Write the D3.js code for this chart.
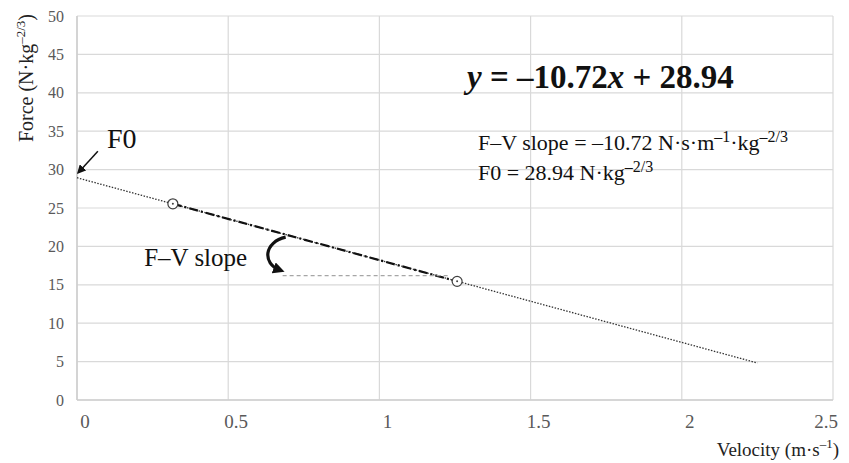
<!DOCTYPE html>
<html>
<head>
<meta charset="utf-8">
<script src="https://cdn.jsdelivr.net/npm/d3@7"></script>
<style>
  body { margin: 0; background: #fff; }
  svg { display: block; font-family: "Liberation Serif", "Times New Roman", serif; }
</style>
</head>
<body>
<svg id="chart" width="849" height="463"></svg>
<script>
// ---- data ----
const xTicks = [0, 0.5, 1, 1.5, 2, 2.5];
const xTickLabels = ["0", "0.5", "1", "1.5", "2", "2.5"];
const yTicks = [0, 5, 10, 15, 20, 25, 30, 35, 40, 45, 50];
const pointVelocity = [0.317, 1.257];
const pointForce = [25.55, 15.45];
const slope = -10.72;
const intercept = 28.94;
const lineRange = [0, 2.25];

// ---- layout ----
const W = 849, H = 463;
const margin = { left: 77, right: 16, top: 16, bottom: 63 };
const svg = d3.select("#chart");
const x = d3.scaleLinear().domain([0, 2.5]).range([margin.left, W - margin.right]);
const y = d3.scaleLinear().domain([0, 50]).range([H - margin.bottom, margin.top]);

const grid = "#d9d9d9";
// grid lines
svg.append("g").selectAll("line").data(yTicks).join("line")
  .attr("x1", x(0)).attr("x2", x(2.5))
  .attr("y1", d => y(d)).attr("y2", d => y(d))
  .attr("stroke", grid).attr("stroke-width", 1.2);
svg.append("g").selectAll("line").data(xTicks).join("line")
  .attr("y1", y(0)).attr("y2", y(50))
  .attr("x1", d => x(d)).attr("x2", d => x(d))
  .attr("stroke", grid).attr("stroke-width", 1.2);
// axis lines
svg.append("line").attr("x1", x(0)).attr("x2", x(2.5)).attr("y1", y(0)).attr("y2", y(0))
  .attr("stroke", "#cfcfcf").attr("stroke-width", 1.6);
svg.append("line").attr("x1", x(0)).attr("x2", x(0)).attr("y1", y(0)).attr("y2", y(50))
  .attr("stroke", "#cfcfcf").attr("stroke-width", 1.6);

// tick labels
svg.append("g").selectAll("text").data(yTicks).join("text")
  .attr("x", x(0) - 13).attr("y", d => y(d)).attr("dy", "0.35em")
  .attr("text-anchor", "end").attr("font-size", 16).attr("fill", "#595959")
  .text(d => d);
svg.append("g").selectAll("text").data(xTicks).join("text")
  .attr("x", (d, i) => i === xTicks.length - 1 ? x(d) + 5 : x(d) + 8)
  .attr("y", y(0) + 28)
  .attr("text-anchor", (d, i) => i === xTicks.length - 1 ? "end" : "middle")
  .attr("font-size", 19).attr("fill", "#595959")
  .text((d, i) => xTickLabels[i]);

// axis titles
const yt = svg.append("text")
  .attr("transform", `translate(33,${margin.top - 2}) rotate(-90)`)
  .attr("text-anchor", "end").attr("font-size", 20).attr("fill", "#222");
yt.append("tspan").text("Force (N·kg");
yt.append("tspan").attr("font-size", 13).attr("dy", -8).text("–2/3");
yt.append("tspan").attr("dy", 8).text(")");

const xt = svg.append("text")
  .attr("x", W - 10).attr("y", H - 7)
  .attr("text-anchor", "end").attr("font-size", 19).attr("fill", "#222");
xt.append("tspan").text("Velocity (m·s");
xt.append("tspan").attr("font-size", 13).attr("dy", -8).text("–1");
xt.append("tspan").attr("dy", 8).text(")");

// regression line (dotted)
const fit = v => slope * v + intercept;
svg.append("line")
  .attr("x1", x(lineRange[0])).attr("y1", y(fit(lineRange[0])))
  .attr("x2", x(lineRange[1])).attr("y2", y(fit(lineRange[1])))
  .attr("stroke", "#333").attr("stroke-width", 1.3).attr("stroke-dasharray", "1.5,1.5");

// dash-dot segment between points
svg.append("line")
  .attr("x1", x(pointVelocity[0])).attr("y1", y(pointForce[0]))
  .attr("x2", x(pointVelocity[1])).attr("y2", y(pointForce[1]))
  .attr("stroke", "#111").attr("stroke-width", 2.2).attr("stroke-dasharray", "9,3,2,3");

// gray dashed horizontal (slope reference)
svg.append("line")
  .attr("x1", x(0.68)).attr("x2", x(1.23))
  .attr("y1", y(16.2)).attr("y2", y(16.2))
  .attr("stroke", "#a6a6a6").attr("stroke-width", 1.2).attr("stroke-dasharray", "4,3");

// points
const pts = svg.append("g").selectAll("g").data(pointVelocity).join("g")
  .attr("transform", (d, i) => `translate(${x(d)},${y(pointForce[i])})`);
pts.append("circle").attr("r", 5).attr("fill", "#fff").attr("stroke", "#404040").attr("stroke-width", 1.2);
pts.append("circle").attr("r", 1).attr("fill", "#404040");

// arrow markers
const defs = svg.append("defs");
defs.append("marker").attr("id", "ah").attr("viewBox", "0 0 10 10")
  .attr("refX", 8).attr("refY", 5).attr("markerWidth", 6).attr("markerHeight", 6)
  .attr("orient", "auto")
  .append("path").attr("d", "M0,0 L10,5 L0,10 z").attr("fill", "#111");
defs.append("marker").attr("id", "ah2").attr("viewBox", "0 0 10 10")
  .attr("refX", 6).attr("refY", 5).attr("markerWidth", 3.6).attr("markerHeight", 3.6)
  .attr("orient", "auto")
  .append("path").attr("d", "M0,0 L10,5 L0,10 z").attr("fill", "#111");

// F0 arrow
svg.append("line")
  .attr("x1", x(0.069)).attr("y1", y(32.4))
  .attr("x2", x(0.004)).attr("y2", y(29.6))
  .attr("stroke", "#111").attr("stroke-width", 1.5).attr("marker-end", "url(#ah)");

// curved arrow
const cp = d3.path();
cp.moveTo(x(0.69), y(21.2));
cp.bezierCurveTo(x(0.62), y(20.6), x(0.61), y(17.8), x(0.672), y(16.9));
svg.append("path").attr("d", cp.toString())
  .attr("fill", "none").attr("stroke", "#111").attr("stroke-width", 3.2)
  .attr("marker-end", "url(#ah2)");

// annotations
svg.append("text").attr("x", x(0.099)).attr("y", y(32.8))
  .attr("font-size", 28).attr("fill", "#111").text("F0");
svg.append("text").attr("x", x(0.222)).attr("y", y(17.45))
  .attr("font-size", 25).attr("fill", "#111").text("F–V slope");

const eq = svg.append("text").attr("x", x(1.29)).attr("y", y(40.6))
  .attr("font-size", 33).attr("font-weight", "bold").attr("fill", "#111");
eq.append("tspan").attr("font-style", "italic").text("y");
eq.append("tspan").text(" = –" + Math.abs(slope).toFixed(2));
eq.append("tspan").attr("font-style", "italic").text("x");
eq.append("tspan").text(" + " + intercept.toFixed(2));

const t1 = svg.append("text").attr("x", x(1.326)).attr("y", y(32.55))
  .attr("font-size", 22).attr("fill", "#111");
t1.append("tspan").text("F–V slope = –" + Math.abs(slope).toFixed(2) + " N·s·m");
t1.append("tspan").attr("font-size", 16).attr("dy", -8).text("–1");
t1.append("tspan").attr("dy", 8).text("·kg");
t1.append("tspan").attr("font-size", 16).attr("dy", -8).text("–2/3");

const t2 = svg.append("text").attr("x", x(1.326)).attr("y", y(28.65))
  .attr("font-size", 22).attr("fill", "#111");
t2.append("tspan").text("F0 = " + intercept.toFixed(2) + " N·kg");
t2.append("tspan").attr("font-size", 16).attr("dy", -8).text("–2/3");
</script>
</body>
</html>
